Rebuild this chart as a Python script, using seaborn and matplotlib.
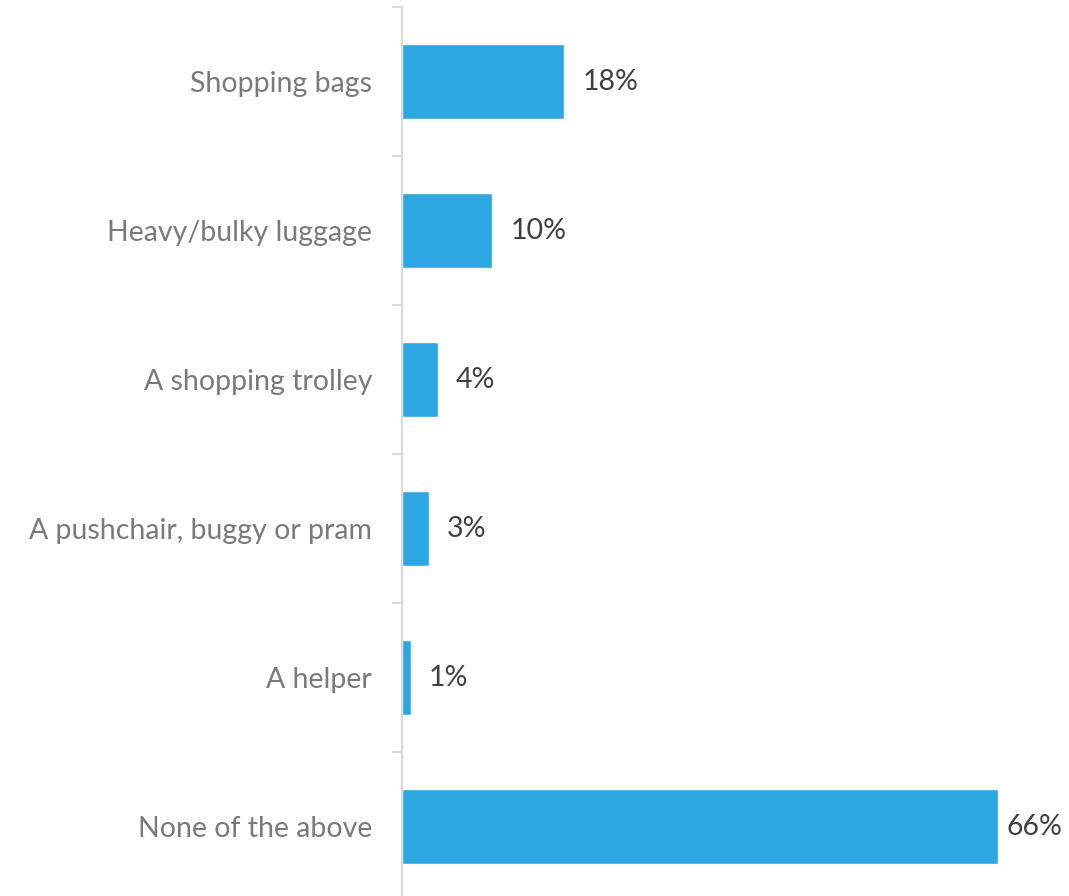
import numpy as np
import pandas as pd
import seaborn as sns
import matplotlib
matplotlib.use("Agg")
from matplotlib import pyplot as plt

categories = ["Shopping bags", "Heavy/bulky luggage", "A shopping trolley",
              "A pushchair, buggy or pram", "A helper", "None of the above"]
values = [18, 10, 4, 3, 1, 66]
value_labels = ["18%", "10%", "4%", "3%", "1%", "66%"]

BAR_COLOR = "#2CA7E2"
sns.set_theme(style="white")
plt.rcParams["font.family"] = ["Lato", "DejaVu Sans"]

df = pd.DataFrame({"item": categories, "pct": values})

fig = plt.figure(figsize=(10.69, 8.96), dpi=100)
# axis line sits at x=402px, top at y=7px; category rows are ~149px tall
ax = fig.add_axes([402 / 1069, 1 - 901 / 896, 1 - 402 / 1069, 894 / 896])

sns.barplot(data=df, x="pct", y="item", color=BAR_COLOR, width=0.5,
            saturation=1, ax=ax)

ax.set_xlim(0, 73.9)
ax.set_ylim(len(categories) - 0.5, -0.5)

# value labels, the last one sits a bit closer to its bar as in the original
for i, p in enumerate(ax.patches):
    pad = 6 if values[i] > 50 else 13
    ax.annotate(value_labels[i], (p.get_width(), p.get_y() + p.get_height() / 2),
                xytext=(pad, 0), textcoords="offset points", va="center",
                ha="left", fontsize=20.5, color="#404040")

for s in ["top", "right", "bottom"]:
    ax.spines[s].set_visible(False)
ax.spines["left"].set_color("#D9D9D9")
ax.spines["left"].set_linewidth(1.5)

ax.set_xticks([])
ax.set_xlabel("")
ax.set_ylabel("")
ax.tick_params(axis="y", which="major", length=0, pad=21.5, labelsize=20.5,
               labelcolor="#7A7A7A")
ax.set_yticks(np.arange(-0.5, len(categories) + 0.5), minor=True)
ax.tick_params(axis="y", which="minor", length=7.2, width=1.5, color="#D9D9D9",
               left=True)

fig.savefig("out.png", dpi=100)
